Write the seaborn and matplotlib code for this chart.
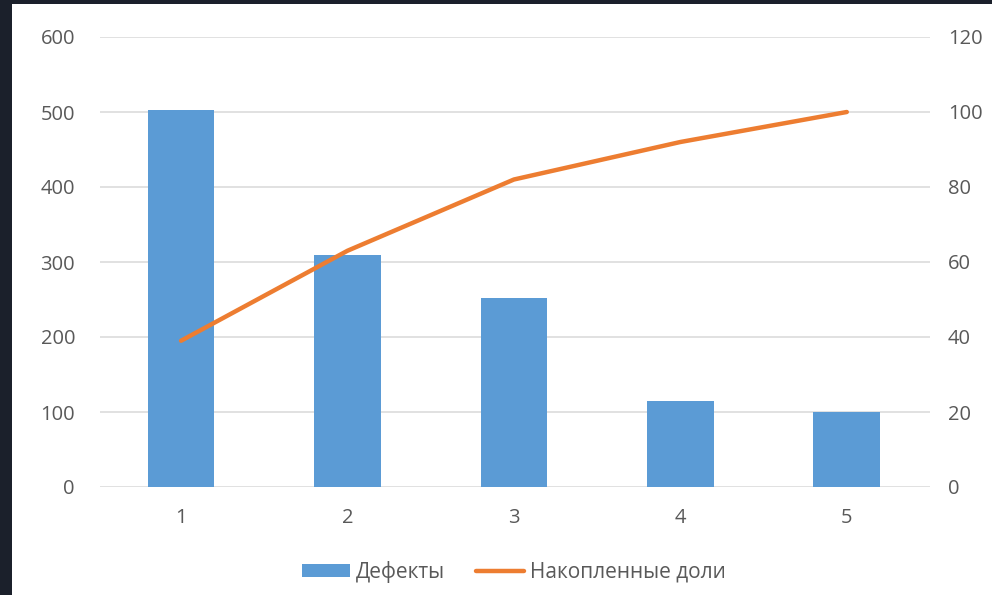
import numpy as np
import pandas as pd
import seaborn as sns
import matplotlib.pyplot as plt
from matplotlib.patches import Rectangle, Patch
from matplotlib.lines import Line2D

# values
categories = ["1", "2", "3", "4", "5"]
defects = [503, 309, 252, 115, 100]
cum_share = [39, 63, 82, 92, 100]

sns.set_theme(style="white")
plt.rcParams['font.family'] = ['Open Sans', 'DejaVu Sans']

text_col = "#595959"
bar_col = "#5B9BD5"
line_col = "#ED7D31"

fig = plt.figure(figsize=(9.92, 5.95), dpi=100)
fig.patch.set_facecolor("#1B202B")
fig.patches.append(Rectangle((12 / 992, 0), 1, 1 - 4 / 595, transform=fig.transFigure,
                             facecolor="white", edgecolor="none", zorder=-10))

ax = fig.add_axes([100 / 992, 1 - 487 / 595, 830 / 992, 450 / 595])
ax.set_facecolor("none")

df = pd.DataFrame({"cat": categories, "defects": defects, "share": cum_share})
sns.barplot(data=df, x="cat", y="defects", color=bar_col, saturation=1, width=0.4,
            linewidth=0, ax=ax, zorder=2)

ax.set_ylim(0, 600)
ax.set_yticks(range(0, 601, 100))
ax.set_xlim(-0.487, len(categories) - 0.5)
ax.yaxis.grid(True, color="#D9D9D9", lw=1.1)
ax.set_axisbelow(True)
ax.set(xlabel="", ylabel="")
sns.despine(ax=ax, left=True, bottom=True)
ax.tick_params(axis="y", length=0, pad=18, labelsize=14.5, labelcolor=text_col)
ax.tick_params(axis="x", length=0, pad=15, labelsize=14.5, labelcolor=text_col)

ax2 = ax.twinx()
sns.lineplot(x=np.arange(len(categories)), y=df["share"], color=line_col, lw=3.2,
             ax=ax2, zorder=3)
ax2.set_ylim(0, 120)
ax2.set_yticks(range(0, 121, 20))
ax2.set_ylabel("")
sns.despine(ax=ax2, left=True, bottom=True, right=True)
ax2.tick_params(axis="y", length=0, pad=13, labelsize=14.5, labelcolor=text_col)
ax2.grid(False)

handles = [Patch(facecolor=bar_col, edgecolor="none"),
           Line2D([], [], color=line_col, lw=3.2)]
fig.legend(handles, ["Дефекты", "Накопленные доли"], loc="center",
           bbox_to_anchor=(514 / 992, 1 - 572 / 595), ncol=2, frameon=False,
           fontsize=15, labelcolor=text_col, handlelength=2.3, handleheight=0.55,
           handletextpad=0.3, columnspacing=1.5)

fig.savefig("out.png", dpi=100, facecolor=fig.get_facecolor())
